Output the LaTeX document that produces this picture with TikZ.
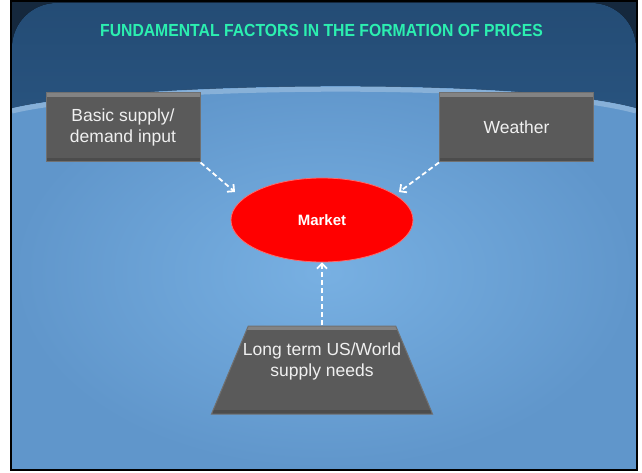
\documentclass[tikz,border=0pt]{standalone}
\usepackage{fontspec}
\usepackage{graphicx}
\setmainfont{Liberation Sans}
\usetikzlibrary{shapes.geometric,arrows.meta}
\definecolor{framenavy}{HTML}{15283D}
\definecolor{bandtop}{HTML}{244C75}
\definecolor{bandbottom}{HTML}{35699C}
\definecolor{skyinner}{HTML}{78B0E2}
\definecolor{skyouter}{HTML}{6096CB}
\definecolor{titlegreen}{HTML}{2CEFB0}
\definecolor{boxgray}{HTML}{5A5A5A}
\definecolor{boxedge}{HTML}{707070}
\definecolor{boxtext}{HTML}{F0F0F0}
\definecolor{marketred}{HTML}{FF0000}
\definecolor{marketrim}{HTML}{FF6A6A}
\begin{document}
\begin{tikzpicture}[x=1pt,y=-1pt]
		\tikzstyle{bevel} = [path picture={
			\fill[white, opacity=.25] (path picture bounding box.north west) rectangle ([yshift=-4pt]path picture bounding box.north east);
			\fill[black, opacity=.15] (path picture bounding box.south west) rectangle ([yshift=4pt]path picture bounding box.south east);
		}]
		\tikzstyle{factortext} = [text=boxtext, align=center, font=\fontsize{17.5}{21}\selectfont]
		\tikzstyle{factor} = [fill=boxgray, draw=boxedge, line width=1pt, factortext, bevel]
		\tikzstyle{factorbox} = [rectangle, factor, inner sep=0pt, minimum width=154pt, minimum height=69pt]
		\tikzstyle{link} = [draw=white, line width=1.8pt, dash pattern=on 5pt off 3pt, -{Straight Barb[length=5pt,width=10pt]}]
		\useasboundingbox (0,0) rectangle (642,473);
		\fill[white] (0,0) rectangle (642,473);
		\fill[framenavy] (10,0) rectangle (638,471);
		\fill[top color=bandtop, bottom color=bandbottom] (12,469) -- (12,48) arc[start angle=180, end angle=270, radius=45] -- (591,3) arc[start angle=270, end angle=360, radius=45] -- (636,469) -- cycle;
		\fill[inner color=skyinner, outer color=skyouter] (12,469) -- (12,108) .. controls (120,82) and (520,76) .. (636,108) -- (636,469) -- cycle;
		\draw[white, opacity=.25, line width=5pt] (12,111) .. controls (120,85) and (520,79) .. (636,111);
		\draw[black, line width=2.5pt] (11,1.2) rectangle (637,470);
		\node[text=titlegreen, font=\bfseries\fontsize{17.5}{20}\selectfont] (title) at (321.5,30) {\scalebox{0.9}[1]{FUNDAMENTAL FACTORS IN THE FORMATION OF PRICES}};
		\node[factorbox] (basic) at (123,127.5) {Basic supply/\\demand input};
		\node[factorbox] (weather) at (516.5,127.5) {Weather};
		\node[ellipse, fill=marketred, draw=marketrim, line width=0.8pt, minimum width=182pt, minimum height=84pt, inner sep=0pt, text=white, font=\bfseries\fontsize{15}{18}\selectfont] (mkt) at (322,220) {Market};
		\node[trapezium, trapezium stretches=true, trapezium left angle=76, trapezium right angle=76, minimum width=221pt, minimum height=88pt, factor] (needs) at (322,370) {};
		\node[factortext] (needslabel) at ([yshift=9pt]needs.center) {Long term US/World\\supply needs};
		\coordinate (in1) at (235,192);
		\coordinate (in2) at (399,192);
		\draw[link] (basic.south east) -- (in1);
		\draw[link] (weather.south west) -- (in2);
		\draw[link] (needs.north) -- (mkt.south);
\end{tikzpicture}
\end{document}
